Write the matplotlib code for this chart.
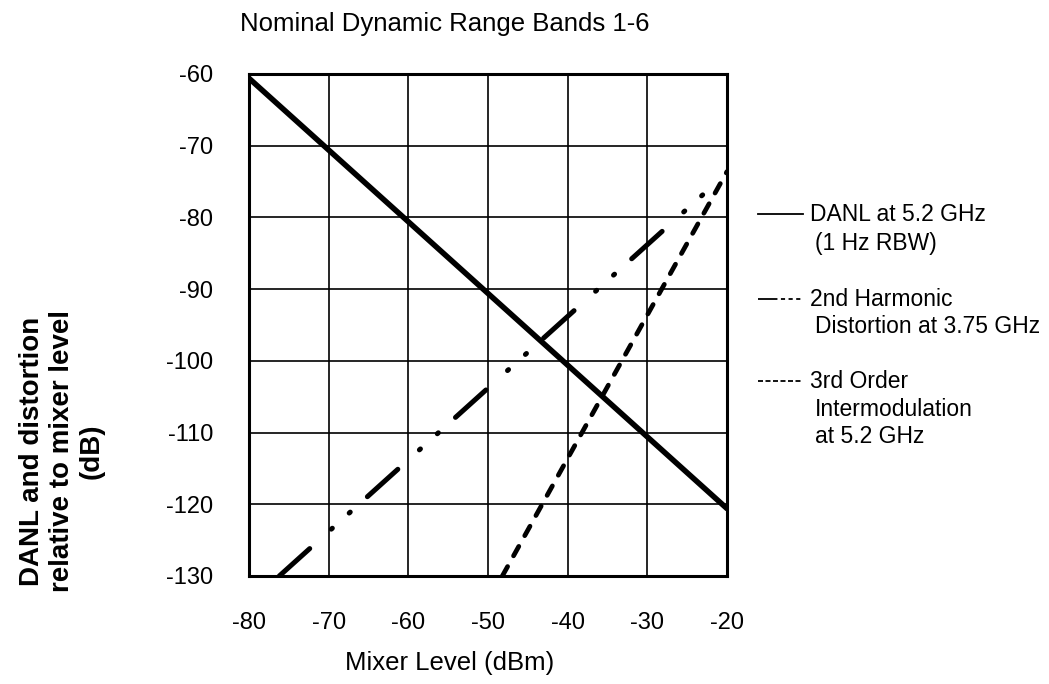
import numpy as np
import matplotlib
matplotlib.use("Agg")
import matplotlib.pyplot as plt
from matplotlib.lines import Line2D

plt.rcParams['font.family'] = ['Liberation Sans', 'DejaVu Sans']
plt.rcParams['lines.scale_dashes'] = False
plt.rcParams['axes.unicode_minus'] = False

# data (mixer level in dBm, level in dB)
danl_x = [-80, -20]
danl_y = [-60.6, -120.6]
harm_x = [-76.2, -22.7]
harm_y = [-130.0, -76.5]
im3_x = [-48.2, -20]
im3_y = [-130.0, -73.6]

xticks = [-80, -70, -60, -50, -40, -30, -20]
yticks = [-60, -70, -80, -90, -100, -110, -120, -130]

legend_rows = [
    ('solid', [213, 242], ['DANL at 5.2 GHz', '(1 Hz RBW)']),
    ('harm', [298, 325], ['2nd Harmonic', 'Distortion at 3.75 GHz']),
    ('im3', [380, 408, 435], ['3rd Order', 'Intermodulation', 'at 5.2 GHz']),
]

W, H = 1049, 684
fig = plt.figure(figsize=(W / 100, H / 100), dpi=100)
ax = fig.add_axes([249 / W, 1 - 576 / H, (727 - 249) / W, (576 - 74) / H])

ax.plot(danl_x, danl_y, color='black', lw=4.0, solid_capstyle='round', zorder=3)
# long dash, dot, dot
ax.plot(harm_x, harm_y, color='black', lw=3.6, dash_capstyle='round',
        linestyle=(0, (29.5, 20.9, 1.0, 16.35, 1.0, 16.6)), zorder=3)
ax.plot(im3_x, im3_y, color='black', lw=3.4, dash_capstyle='round',
        linestyle=(0, (7.8, 8.8)), zorder=3)

ax.set_xlim(-80, -20)
ax.set_ylim(-130, -60)
ax.set_xticks(xticks)
ax.set_yticks(yticks)
ax.grid(True, color='black', lw=1.2)
ax.set_axisbelow(True)
for s in ax.spines.values():
    s.set_linewidth(2.2)
ax.tick_params(length=0, pad=26, labelsize=17)

fig.text(445 / W, 1 - 24 / H, 'Nominal Dynamic Range Bands 1-6',
         ha='center', va='center', fontsize=18.5)
fig.text(450 / W, 1 - 663 / H, 'Mixer Level (dBm)',
         ha='center', va='center', fontsize=18.5)
fig.text(62 / W, 1 - 451 / H,
         'DANL and distortion\nrelative to mixer level\n(dB)',
         ha='center', va='center', rotation=90, fontsize=20,
         fontweight='bold', linespacing=1.2, multialignment='center')

# hand-drawn legend to the right of the plot
styles = {
    'solid': '-',
    'harm': (0, (14, 2.5, 3, 2.5, 3, 2.5, 3, 2.5)),
    'im3': (0, (3.6, 1.8)),
}
for kind, ys, lines in legend_rows:
    yf = 1 - (ys[0] + 1) / H
    fig.add_artist(Line2D([758 / W, 803 / W], [yf, yf], color='black',
                          lw=1.3, linestyle=styles[kind]))
    for i, (y, txt) in enumerate(zip(ys, lines)):
        x = 810 if i == 0 else 815
        fig.text(x / W, 1 - (y + 8) / H, txt, ha='left', va='baseline',
                 fontsize=16.5)

fig.savefig('out.png', dpi=100)
